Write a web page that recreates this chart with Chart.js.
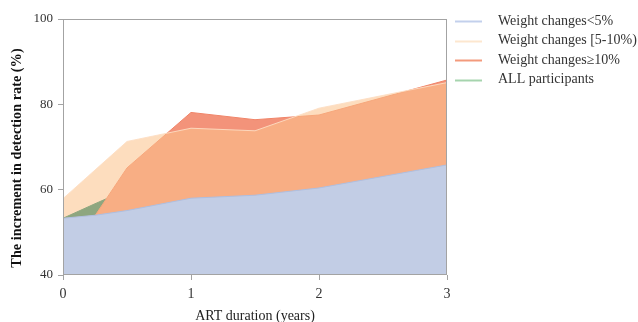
<!DOCTYPE html>
<html>
<head>
<meta charset="utf-8">
<script src="https://cdn.jsdelivr.net/npm/chart.js@4.4.1/dist/chart.umd.min.js"></script>
<style>
  html, body { margin: 0; padding: 0; background: #fff; }
  #wrap { width: 638px; height: 322px; position: relative; }
</style>
</head>
<body>
<div id="wrap"><canvas id="c" width="638" height="322"></canvas></div>
<script>
const years = [0, 0.25, 0.5, 1, 1.5, 2, 3];
const seriesNames = ["Weight changes<5%", "Weight changes [5-10%)", "Weight changes\u226510%", "ALL participants"];
const below5 = [53.3, 54.0, 55.1, 58.0, 58.7, 60.4, 65.8];
const from5to10 = [57.9, 64.6, 71.3, 74.4, 73.8, 79.1, 85.1];
const above10 = [53.2, 53.9, 65.1, 78.1, 76.4, 77.5, 85.7];
const allParticipants = [53.3, 56.7, 60.0, 65.0, 66.0, 68.5, 74.0];
const yTicks = [40, 60, 80, 100];
const xTicks = [0, 1, 2, 3];
const yTitle = 'The increment in detection rate (%)';
const xTitle = 'ART duration (years)';

const legendColors = ["#c3d0ec", "#fde7cf", "#f39a7c", "#a6d4ae"];
const serif = "'Liberation Serif', 'Times New Roman', serif";

function pts(vals) { return years.map((x, i) => ({ x: x, y: vals[i] })); }

const frameLegend = {
  id: 'frameLegend',
  afterDatasetsDraw(chart) {
    const { ctx, chartArea: a } = chart;
    ctx.save();
    ctx.strokeStyle = '#a3a3a3';
    ctx.lineWidth = 1;
    const l = Math.round(a.left) + 0.5, r = Math.round(a.right) - 0.5;
    const t = Math.round(a.top) + 0.5, b = Math.round(a.bottom) - 0.5;
    ctx.strokeRect(l, t, r - l, b - t);
    ctx.restore();
  },
  afterDraw(chart) {
    const { ctx, chartArea: a } = chart;
    ctx.save();
    ctx.font = "14px " + serif;
    ctx.textBaseline = 'middle';
    ctx.fillStyle = '#333';
    seriesNames.forEach((name, i) => {
      const y = a.top + 2 + i * 19.5;
      ctx.strokeStyle = legendColors[i];
      ctx.lineWidth = 2;
      ctx.beginPath();
      ctx.moveTo(a.right + 8, Math.round(y) + 0.5);
      ctx.lineTo(a.right + 35, Math.round(y) + 0.5);
      ctx.stroke();
      ctx.fillText(name, a.right + 51, y);
    });
    // y-axis title
    ctx.translate(17.5, a.top + (a.bottom - a.top) / 2 + 11);
    ctx.rotate(-Math.PI / 2);
    ctx.font = "bold 14.3px " + serif;
    ctx.fillStyle = '#111';
    ctx.textAlign = 'center';
    ctx.fillText(yTitle, 0, 0);
    ctx.restore();
  }
};

new Chart(document.getElementById('c'), {
  type: 'line',
  data: {
    datasets: [
      { label: seriesNames[0], data: pts(below5), order: 0, fill: 'start',
        backgroundColor: 'rgb(194,205,229)', borderColor: '#aebfe1', borderWidth: 1 },
      { label: seriesNames[1], data: pts(from5to10), order: 1, fill: 'start',
        backgroundColor: 'rgba(251,195,140,0.565)', borderColor: 'rgba(253,222,195,0.9)', borderWidth: 1 },
      { label: seriesNames[2], data: pts(above10), order: 2, fill: 'start',
        backgroundColor: 'rgb(243,147,122)', borderColor: 'rgb(240,132,104)', borderWidth: 1 },
      { label: seriesNames[3], data: pts(allParticipants), order: 3, fill: 'start',
        backgroundColor: 'rgb(0,130,110)', borderColor: 'rgb(0,130,110)', borderWidth: 1 }
    ]
  },
  options: {
    responsive: false,
    animation: false,
    devicePixelRatio: 1,
    elements: { point: { radius: 0, hoverRadius: 0 }, line: { tension: 0 } },
    layout: { padding: { top: 19, right: 191, bottom: 0, left: 0 } },
    plugins: { legend: { display: false }, tooltip: { enabled: false } },
    scales: {
      x: {
        type: 'linear', min: 0, max: 3,
        afterBuildTicks(s) { s.ticks = xTicks.map(v => ({ value: v })); },
        afterFit(s) { s.height = 47; },
        grid: { drawOnChartArea: false, drawTicks: true, tickLength: 5, color: '#a3a3a3' },
        border: { display: false },
        ticks: { color: '#333', font: { family: serif, size: 14 }, padding: 6, maxRotation: 0 },
        title: { display: true, text: xTitle, color: '#222',
          font: { family: serif, size: 14, lineHeight: 0.8 }, padding: { top: 0, bottom: 0 } }
      },
      y: {
        type: 'linear', min: 40, max: 100,
        afterBuildTicks(s) { s.ticks = yTicks.map(v => ({ value: v })); },
        afterFit(s) { s.width = 63; },
        grid: { drawOnChartArea: false, drawTicks: true, tickLength: 5, color: '#a3a3a3' },
        border: { display: false },
        ticks: { color: '#333', font: { family: serif, size: 13 }, padding: 5 },
        title: { display: false }
      }
    }
  },
  plugins: [frameLegend]
});
</script>
</body>
</html>
